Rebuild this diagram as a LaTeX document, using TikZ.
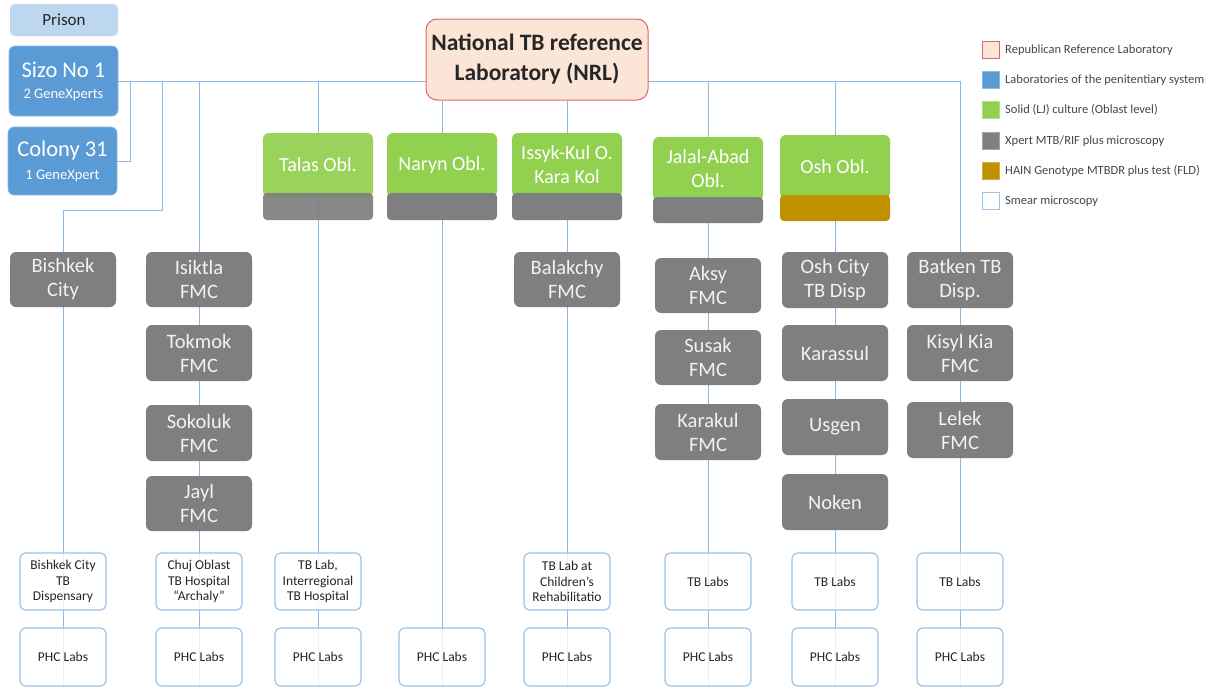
\documentclass[tikz,border=0pt]{standalone}
\usepackage{fontspec}
\setmainfont{Carlito}
\definecolor{lineblue}{HTML}{8FBBE3}
\definecolor{boxblue}{HTML}{9DC3E6}
\definecolor{graybox}{HTML}{7F7F7F}
\definecolor{oblgreen}{HTML}{92D050}
\definecolor{hain}{HTML}{BF9000}
\definecolor{penblue}{HTML}{5B9BD5}
\definecolor{prisonblue}{HTML}{BDD7EE}
\definecolor{nrlfill}{HTML}{FBE5D6}
\definecolor{nrlborder}{HTML}{E06666}
\definecolor{textdark}{HTML}{262626}
\pgfdeclarelayer{background}
\pgfdeclarelayer{paper}
\pgfsetlayers{paper,background,main}
\newcommand\bx[7]{\node[#2, minimum width={#5-#3}, minimum height={#6-#4}] (#1) at ({(#3+#5)/2},{(#4+#6)/2}) {#7};}
\begin{document}
\begin{tikzpicture}[x=1pt,y=-1pt,
  conn/.style={draw=lineblue, line width=1pt},
  basebox/.style={inner sep=0pt, align=center},
  gbox/.style={basebox, fill=graybox, rounded corners=6pt, text=white!95!black, font=\fontsize{20.5}{24}\selectfont},
  oblbox/.style={basebox, fill=oblgreen, rounded corners=6pt, text=white, font=\fontsize{20}{24}\selectfont},
  stripgray/.style={basebox, fill=graybox, rounded corners=4pt},
  stripgold/.style={basebox, fill=hain, rounded corners=4pt},
  labbox/.style={basebox, fill=white, fill opacity=0.82, text opacity=1, draw=boxblue, line width=1.2pt, rounded corners=6pt, text=textdark, font=\fontsize{13.5}{15.5}\selectfont},
  penbox/.style={basebox, fill=penblue, draw=penblue!70!white, line width=0.6pt, rounded corners=6pt, text=white},
  legsq/.style={minimum width=17pt, minimum height=17pt, inner sep=0pt, line width=0.8pt},
  legtext/.style={anchor=west, inner sep=0pt, text=textdark!85!white, font=\fontsize{12.5}{14}\selectfont}
]
\begin{pgfonlayer}{paper}
\fill[white] (0,0) rectangle (1220,688);
\end{pgfonlayer}
\useasboundingbox (0,0) rectangle (1220,688);

% ---------- top ----------
\bx{prison}{basebox, fill=prisonblue, rounded corners=5pt, text=textdark, font=\fontsize{17}{20}\selectfont}{10}{4}{118}{36}{Prison}
\bx{sizo}{penbox}{9}{46}{118}{116}{{\fontsize{22.5}{26}\selectfont Sizo No 1}\\[9pt]{\fontsize{14.5}{16}\selectfont 2 GeneXperts}}
\bx{colony}{penbox}{8}{127}{117}{195}{{\fontsize{22.5}{26}\selectfont Colony 31}\\[9pt]{\fontsize{14.5}{16}\selectfont 1 GeneXpert}}
\bx{nrl}{basebox, fill=nrlfill, draw=nrlborder, line width=1pt, rounded corners=11pt, text=textdark, font=\fontsize{23.5}{30}\selectfont\bfseries}{426}{19}{648}{100}{National TB reference\\Laboratory (NRL)}

% ---------- oblast boxes ----------
\bx{talas}{oblbox, fill opacity=0.93, text opacity=1}{263}{133}{373}{197}{Talas Obl.}
\bx{talasx}{stripgray, fill opacity=0.93}{263}{193}{373}{220}{}
\bx{naryn}{oblbox}{387}{133}{497}{197}{Naryn Obl.}
\bx{narynx}{stripgray}{387}{193}{497}{220}{}
\bx{issyk}{oblbox}{512}{133}{622}{197}{Issyk-Kul O.\\Kara Kol}
\bx{issykx}{stripgray}{512}{193}{622}{220}{}
\bx{jalal}{oblbox}{653}{137}{763}{201}{Jalal-Abad\\Obl.}
\bx{jalalx}{stripgray}{653}{197}{763}{223}{}
\bx{osh}{oblbox}{780}{135}{890}{199}{Osh Obl.}
\bx{oshx}{stripgold}{780}{195}{890}{221}{}

% ---------- column 1 ----------
\bx{bishkek}{gbox}{10}{252}{116}{307}{Bishkek\\City}
\bx{bishlab}{labbox}{20}{553}{106}{610}{Bishkek City\\TB\\Dispensary}
\bx{phcA}{labbox}{20}{628}{106}{686}{PHC Labs}
% ---------- column 2 ----------
\bx{isiktla}{gbox}{146}{252}{252}{307}{Isiktla\\FMC}
\bx{tokmok}{gbox}{146}{325}{252}{381}{Tokmok\\FMC}
\bx{sokoluk}{gbox}{146}{405}{252}{461}{Sokoluk\\FMC}
\bx{jayl}{gbox}{146}{476}{252}{531}{Jayl\\FMC}
\bx{chuj}{labbox}{156}{553}{242}{610}{Chuj Oblast\\TB Hospital\\``Archaly''}
\bx{phcB}{labbox}{156}{628}{242}{686}{PHC Labs}
% ---------- column 3 ----------
\bx{talaslab}{labbox}{275}{553}{361}{610}{TB Lab,\\Interregional\\TB Hospital}
\bx{phcC}{labbox}{275}{628}{361}{686}{PHC Labs}
% ---------- column 4 ----------
\bx{phcD}{labbox}{399}{628}{485}{686}{PHC Labs}
% ---------- column 5 ----------
\bx{balakchy}{gbox}{514}{252}{620}{307}{Balakchy\\FMC}
\bx{childlab}{labbox}{524}{553}{610}{610}{TB Lab at\\Children’s\\Rehabilitatio}
\bx{phcE}{labbox}{524}{628}{610}{686}{PHC Labs}
% ---------- column 6 ----------
\bx{aksy}{gbox}{655}{258}{761}{313}{Aksy\\FMC}
\bx{susak}{gbox}{655}{330}{761}{385}{Susak\\FMC}
\bx{karakul}{gbox}{655}{404}{761}{460}{Karakul\\FMC}
\bx{jalallab}{labbox}{665}{553}{751}{610}{TB Labs}
\bx{phcF}{labbox}{665}{628}{751}{686}{PHC Labs}
% ---------- column 7 ----------
\bx{oshcity}{gbox}{782}{252}{888}{308}{Osh City\\TB Disp}
\bx{karassul}{gbox}{782}{325}{888}{381}{Karassul}
\bx{usgen}{gbox}{782}{399}{888}{455}{Usgen}
\bx{noken}{gbox}{782}{474}{888}{530}{Noken}
\bx{oshlab}{labbox}{792}{553}{878}{610}{TB Labs}
\bx{phcG}{labbox}{792}{628}{878}{686}{PHC Labs}
% ---------- column 8 ----------
\bx{batken}{gbox}{907}{252}{1013}{308}{Batken TB\\Disp.}
\bx{kisyl}{gbox}{907}{325}{1013}{381}{Kisyl Kia\\FMC}
\bx{lelek}{gbox}{907}{402}{1013}{458}{Lelek\\FMC}
\bx{batlab}{labbox}{917}{553}{1003}{610}{TB Labs}
\bx{phcH}{labbox}{917}{628}{1003}{686}{PHC Labs}

% ---------- legend ----------
\node[legsq, fill=nrlfill, draw=nrlborder] (lg1) at (991,50) {};
\node[legtext] (lt1) at (1005,50) {Republican Reference Laboratory};
\node[legsq, fill=penblue, draw=penblue!70!white] (lg2) at (991,80) {};
\node[legtext] (lt2) at (1005,80) {Laboratories of the penitentiary system};
\node[legsq, fill=oblgreen, draw=oblgreen!70!white] (lg3) at (991,110) {};
\node[legtext] (lt3) at (1005,110) {Solid (LJ) culture (Oblast level)};
\node[legsq, fill=graybox, draw=graybox!70!white] (lg4) at (991,141) {};
\node[legtext] (lt4) at (1005,141) {Xpert MTB/RIF plus microscopy};
\node[legsq, fill=hain, draw=hain!70!white] (lg5) at (991,171) {};
\node[legtext] (lt5) at (1005,171) {HAIN Genotype MTBDR plus test (FLD)};
\node[legsq, fill=white, draw=boxblue] (lg6) at (991,201) {};
\node[legtext] (lt6) at (1005,201) {Smear microscopy};

% ---------- connectors (behind the boxes) ----------
\coordinate (j1) at (130,81);
\coordinate (j2) at (162,81);
\coordinate (k2) at (162,210);
\begin{pgfonlayer}{background}
\draw[conn] (sizo.east) -| (batken.north);
\draw[conn] (colony.east) -| (j1);
\draw[conn] (j2) -- (k2) -| (bishkek.north);
\draw[conn] (bishkek.north) -- (phcA.south);
\draw[conn] (isiktla.north |- sizo.east) -- (phcB.south);
\draw[conn] (talas.north |- sizo.east) -- (phcC.south);
\draw[conn] (phcD.north |- nrl.south) -- (phcD.south);
\draw[conn] (issyk.north |- nrl.south) -- (phcE.south);
\draw[conn] (jalal.north |- sizo.east) -- (phcF.south);
\draw[conn] (osh.north |- sizo.east) -- (phcG.south);
\draw[conn] (batken.north) -- (phcH.south);
\end{pgfonlayer}
\end{tikzpicture}
\end{document}
